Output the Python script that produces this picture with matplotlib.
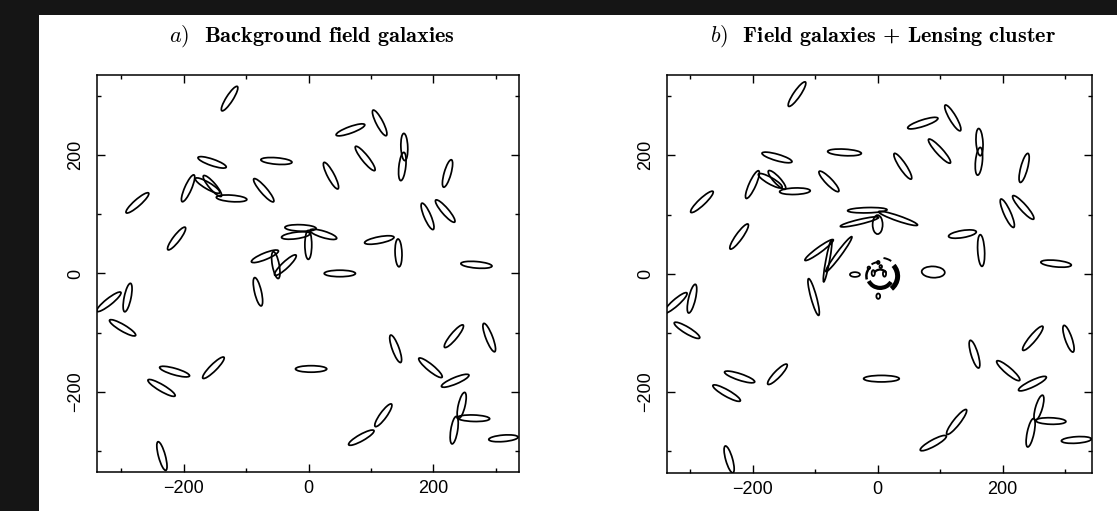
import numpy as np
import matplotlib
matplotlib.use("Agg")
import matplotlib.pyplot as plt
from matplotlib.patches import Ellipse, Arc, Rectangle
from matplotlib.ticker import MultipleLocator

plt.rcParams['mathtext.fontset'] = 'cm'

# ---- panel a: background galaxies (x, y, major axis, angle in deg) ----
a_x = [-126.6, 67, 113.8, 153.3, 150.1, 90.6, 222.5, 35.8, -51.6, -154.6,
       -193.1, -161.9, -154.1, -123.4, -71.9, -274.3, 190.5, 218.8, -211.5, 113.2,
       144, 268.8, -13, -20.6, 23.5, -0.5, -70, -52.6, -37.2, -81.2,
       50, -320, -290, -298, -214.7, -235.6, -152.5, 4, -235, 232.7,
       289.3, 139.4, 195.2, 234.8, 245.2, 233.2, 264, 312, 119.7, 84.4]
a_y = [295.9, 243, 254.8, 214, 181, 194.6, 169.2, 165.5, 190.3, 188,
       144.1, 148.7, 148, 127, 140.8, 119.4, 96.6, 105.6, 59.1, 56.6,
       34.8, 14.6, 77, 64.2, 66.2, 48.4, 29, 14.1, 14.1, -31,
       0, -48, -40.8, -92, -166.1, -193.7, -159.6, -161.6, -309, -106.2,
       -108.5, -127.5, -159.6, -181.6, -223.3, -265.2, -245, -279, -240, -277.9]
a_len = [48, 49, 48, 46, 48, 51, 48, 50, 50, 48,
         49, 46, 45, 49, 50, 49, 48, 48, 47, 48,
         47, 50, 50, 46, 45, 49, 47, 46, 48, 49,
         50, 50, 49, 49, 50, 51, 49, 50, 50, 48,
         51, 49, 49, 48, 45, 47, 52, 47, 46, 47]
a_ang = [59, 21, -64, 92, 84, -53, 75, -63.5, -5, -20,
         67.5, -32, -51, -4.5, -51, 43, -68, -51, 54, 11.5,
         92, -5, -2, 8, -18, 90, 23.5, -80, 45, -77.6,
         0, 40, 79, -32, -17, -32, 46.6, 0, -75.6, 52,
         -70, -71, -41, 24, 77.5, 81.5, -2, 5, 55.7, 30.8]

# ---- panel b: lensed galaxies (x, y, major, minor, angle) ----
b_x = [-129, 72.3, 120.3, 163, 162.1, 99, 234.4, 40.3, -53, -161,
       -200.3, -171.8, -161, -132.3, -77.9, -281.1, 207.5, 233, -221.6, 135.7,
       165.6, 285.5, -16.5, -29, 32.8, 0, -93.6, -62, -80, -102.4,
       -36.3, 89, -323.5, -297, -305, -220.8, -241.6, -160.3, 6.1, -237.6,
       248.3, 305.4, 155, 209, 247.7, 258.1, 244.8, 277, 318, 126.4, 89.1]
b_y = [303.5, 254.5, 263.3, 222.4, 190, 207.2, 178.8, 181.6, 205, 196.5,
       150.6, 157.1, 158.5, 139.4, 156, 121.4, 102.2, 112, 62.8, 67,
       39.2, 17, 107.3, 87.6, 93.5, 83, 40, 33, 21.7, -39.4,
       -1.4, 2.8, -49.5, -42.2, -95.7, -174.5, -201.8, -170, -177.4, -313.9,
       -109.2, -109.9, -136, -163.9, -185.8, -226.6, -268.8, -249, -281, -250.6, -286.3]
b_len = [49, 51, 49.6, 46, 47, 53, 50.5, 51, 54, 50,
         50.7, 44, 41, 49, 46, 50, 52, 51.5, 50.8, 45,
         53.5, 49, 63, 63, 66, 32, 57, 72, 72, 64,
         16, 37, 50, 49.6, 48, 51, 51, 45.4, 57, 47,
         51.3, 47.3, 48.6, 49, 49.7, 44, 49, 48.5, 48, 52, 48]
b_wid = [11, 11, 11, 11, 11, 11, 11, 11, 11, 11,
         11, 11, 11, 11, 11, 11, 11, 11, 11, 12,
         11, 11, 9, 8, 9, 16, 9, 8, 6, 9,
         8, 19, 11, 11, 11, 11, 11, 11, 11, 11,
         11, 11, 11, 11, 11, 11, 11, 11, 11, 11, 11]
b_ang = [57, 19, -61, 93.4, 84.7, -49.4, 76, -58, -3.5, -17,
         67, -31, -49, 2, -47.6, 45, -67, -50, 56, 10,
         93, -6, 1.5, 14, -20, 90, 37.6, 55, 80, 104.5,
         0, -3, 43, 77.5, -32.6, -19.4, -31, 48, 0, 105,
         52, -72, -74, -42, 27, 74.5, 78.7, -2, 4, 53.4, 30.2]

# small arcs / blobs around the cluster centre (panel b)
ring_r = [28, 31, 20, 22, 11, 24]
ring_t1 = [-50, 55, 205, 145, 30, 95]
ring_t2 = [40, 80, 330, 195, 150, 125]
ring_lw = [3.6, 1.4, 3.0, 1.8, 1.6, 1.4]
blob_x = [1, 1, 5, -7, 11, -14]
blob_y = [-38, 19, 12, 1, 0, 10]
blob_w = [6, 4, 4, 5, 5, 4]
blob_h = [9, 5, 5, 10, 10, 4]

titles = [r'$a)$  Background field galaxies', r'$b)$  Field galaxies + Lensing cluster']

fig = plt.figure(figsize=(11.17, 5.11), dpi=100)
fig.patch.set_facecolor('#151515')
fig.patches.append(Rectangle((39 / 1117, 0), 1, (511 - 15) / 511,
                             transform=fig.transFigure, facecolor='white',
                             edgecolor='none', zorder=-10))

ax1 = fig.add_axes([97 / 1117, 39 / 511, 422 / 1117, 396.5 / 511])
ax2 = fig.add_axes([667 / 1117, 38.5 / 511, 425 / 1117, 397 / 511])

for ax in (ax1, ax2):
    ax.set_zorder(2)
    ax.set_facecolor('white')
    for s in ax.spines.values():
        s.set_linewidth(1.1)
    ax.xaxis.set_major_locator(MultipleLocator(200))
    ax.xaxis.set_minor_locator(MultipleLocator(100))
    ax.yaxis.set_major_locator(MultipleLocator(200))
    ax.yaxis.set_minor_locator(MultipleLocator(100))
    ax.tick_params(which='both', direction='in', top=True, right=True, width=1)
    ax.tick_params(which='major', length=6)
    ax.tick_params(which='minor', length=3)
    ax.tick_params(axis='x', labelsize=13, pad=6)
    ax.tick_params(axis='y', labelsize=13, pad=9, labelrotation=90)

for i in range(len(a_x)):
    ax1.add_patch(Ellipse((a_x[i], a_y[i]), a_len[i], 11, angle=a_ang[i],
                          fill=False, edgecolor='black', lw=1.25))

for i in range(len(b_x)):
    ax2.add_patch(Ellipse((b_x[i], b_y[i]), b_len[i], b_wid[i], angle=b_ang[i],
                          fill=False, edgecolor='black', lw=1.25))
for i in range(len(ring_r)):
    ax2.add_patch(Arc((4, -4), 2 * ring_r[i], 2 * ring_r[i], theta1=ring_t1[i],
                      theta2=ring_t2[i], edgecolor='black', lw=ring_lw[i]))
for i in range(len(blob_x)):
    ax2.add_patch(Ellipse((blob_x[i], blob_y[i]), blob_w[i], blob_h[i],
                          fill=False, edgecolor='black', lw=1.3))

ax1.set_xlim(-339, 337)
ax1.set_ylim(-336, 335)
ax2.set_xlim(-337, 343)
ax2.set_ylim(-336, 335)

for ax in (ax1, ax2):
    for lab in ax.get_yticklabels():
        lab.set_va('center')
    for lab in ax.get_xticklabels() + ax.get_yticklabels():
        lab.set_fontfamily('Liberation Sans')

fig.text(312 / 1117, 1 - 36 / 511, titles[0], fontfamily='cmb10', fontsize=16,
         ha='center', va='center')
fig.text(883 / 1117, 1 - 36 / 511, titles[1], fontfamily='cmb10', fontsize=16,
         ha='center', va='center')

fig.savefig('out.png', dpi=100, facecolor=fig.get_facecolor())
